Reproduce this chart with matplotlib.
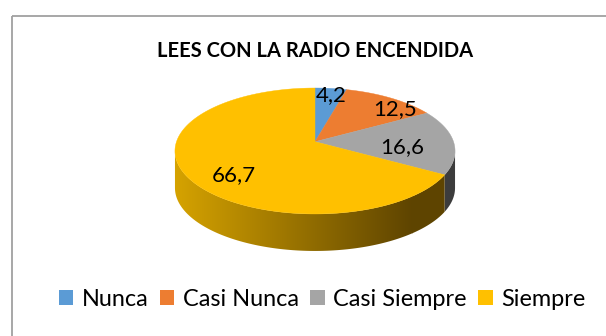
import numpy as np
import matplotlib
matplotlib.use("Agg")
import matplotlib.pyplot as plt
from matplotlib.patches import Polygon, Rectangle, Patch
from matplotlib.colors import LinearSegmentedColormap

# Chart data
title = "LEES CON LA RADIO ENCENDIDA"
categories = ["Nunca", "Casi Nunca", "Casi Siempre", "Siempre"]
values = [4.2, 12.5, 16.6, 66.7]
labels = ["4,2", "12,5", "16,6", "66,7"]

colors = ["#5B9BD5", "#ED7D31", "#A5A5A5", "#FFC000"]
side_colors = [("#3D6C98", "#22415E"), ("#A8531B", "#5C2D0E"),
               ("#6A6A6A", "#3C3C3C"), ("#D6A300", "#5E4400")]

# pie geometry in pixel space
CX, CY = 315.0, 141.7
RX, RY = 138.5, 61.6
K = 0.1475        # perspective strength
DEPTH = 37.0
FONT = ["Lato", "DejaVu Sans"]


def project(theta, r=1.0):
    # theta in degrees, clockwise from 12 o'clock
    t = np.radians(theta)
    u = r * np.sin(t)
    v = r * np.cos(t)
    s = 1.0 / (1.0 + K * v)
    return CX + RX * u * s, CY - RY * v * s


fig = plt.figure(figsize=(6.06, 3.36), dpi=100)
ax = fig.add_axes([0, 0, 1, 1])
ax.set_xlim(0, 606)
ax.set_ylim(336, 0)
ax.axis("off")

# chart frame
ax.add_patch(Rectangle((11.5, 15.5), 700, 400, fill=False,
                       edgecolor="#A0A0A0", linewidth=1.3))

total = sum(values)
bounds = np.concatenate([[0], np.cumsum(values) / total * 360.0])

# front side of the cylinder is visible between the two silhouette points
vis_lo = np.degrees(np.arccos(-K))
vis_hi = 360.0 - vis_lo

for i in range(len(values)):
    a = max(bounds[i], vis_lo)
    b = min(bounds[i + 1], vis_hi)
    if b <= a:
        continue
    th = np.linspace(a, b, 120)
    xs, ys = project(th)
    pts = np.column_stack([np.r_[xs, xs[::-1]], np.r_[ys, ys[::-1] + DEPTH]])
    clip = Polygon(pts, closed=True, facecolor="none", edgecolor="none")
    ax.add_patch(clip)
    cmap = LinearSegmentedColormap.from_list("side", side_colors[i])
    x0, x1 = CX - RX * 1.02, CX + RX * 0.7
    grad = np.linspace(0, 1, 256).reshape(1, -1)
    im = ax.imshow(grad, cmap=cmap, aspect="auto",
                   extent=[x0, x1, CY + RY + DEPTH + 20, CY - 20],
                   interpolation="bilinear", zorder=1)
    im.set_clip_path(clip)
    if x1 < xs.max():
        ext = ax.imshow([[1.0]], cmap=cmap, vmin=0, vmax=1, aspect="auto",
                        extent=[x1, CX + RX + 5, CY + RY + DEPTH + 20, CY - 20],
                        zorder=1)
        ext.set_clip_path(clip)

# top faces
for i in range(len(values)):
    th = np.linspace(bounds[i], bounds[i + 1], 200)
    xs, ys = project(th)
    pts = np.column_stack([np.r_[CX, xs], np.r_[CY, ys]])
    ax.add_patch(Polygon(pts, closed=True, facecolor=colors[i],
                         edgecolor=colors[i], linewidth=0.3, zorder=2))

# data labels: (radius fraction, angle offset, dx, dy)
label_place = [(0.86, 0, 2, 0), (0.86, 4, 8, 4), (0.63, 0, 0, 5), (0.66, 0, 2, 12)]
for i, lab in enumerate(labels):
    r, da, dx, dy = label_place[i]
    mid = (bounds[i] + bounds[i + 1]) / 2 + da
    lx, ly = project(mid, r)
    ax.text(lx + dx, ly + dy, lab, ha="center", va="center", fontsize=16,
            family=FONT, color="black", zorder=3)

ax.text(315, 51, title, ha="center", va="center", fontsize=14.5,
        fontweight="bold", family=FONT, color="black")

handles = [Patch(facecolor=c, edgecolor="none") for c in colors]
ax.legend(handles, categories, loc="center", bbox_to_anchor=(322 / 606, 1 - 299 / 336),
          ncol=4, frameon=False, handlelength=0.62, handleheight=0.62,
          handletextpad=0.35, columnspacing=0.5, borderpad=0, borderaxespad=0,
          prop={"family": FONT, "size": 16.9})

fig.savefig("out.png", dpi=100)
